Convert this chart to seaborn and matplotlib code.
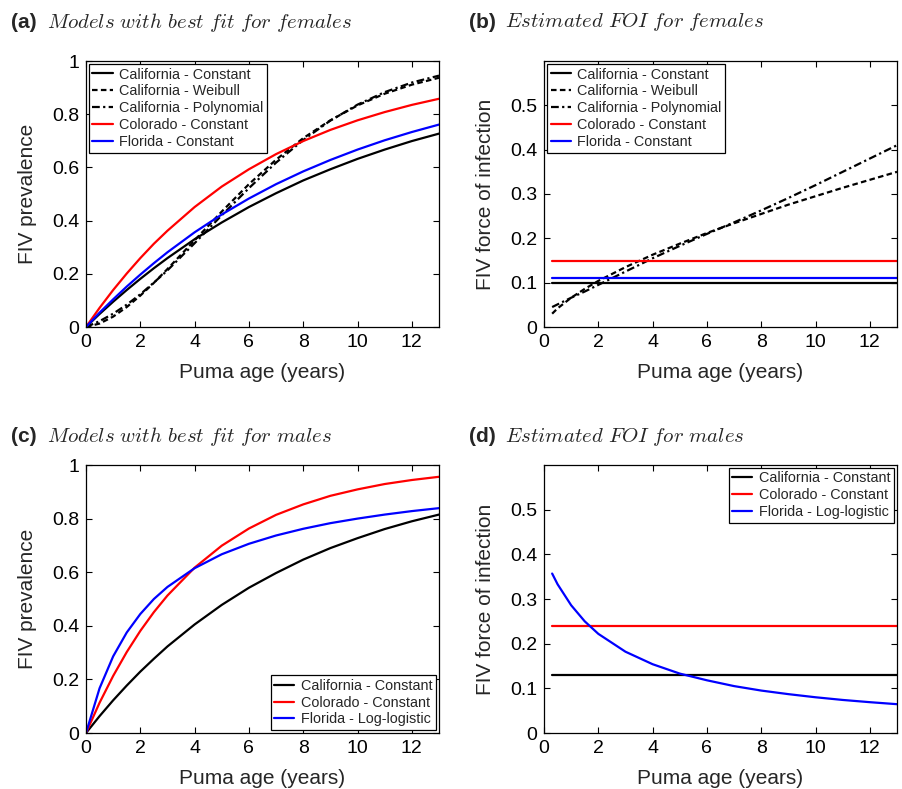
import matplotlib
matplotlib.use("Agg")
import matplotlib.pyplot as plt
import seaborn as sns

AGE = [0, 0.5, 1, 1.5, 2, 2.5, 3, 4, 5, 6, 7, 8, 9, 10, 11, 12, 13]
FOI_AGE = [0.3, 0.5, 1, 1.5, 2, 3, 4, 5, 6, 7, 8, 9, 10, 11, 12, 13]

# (a) female prevalence
prev_f_cal_const = [0, 0.049, 0.095, 0.139, 0.181, 0.221, 0.259, 0.330, 0.393, 0.451, 0.503, 0.551, 0.593, 0.632, 0.667, 0.699, 0.727]
prev_f_cal_weib = [0, 0.013, 0.039, 0.075, 0.118, 0.166, 0.218, 0.326, 0.434, 0.537, 0.629, 0.710, 0.777, 0.833, 0.877, 0.911, 0.937]
prev_f_cal_poly = [0, 0.022, 0.050, 0.084, 0.123, 0.167, 0.213, 0.315, 0.420, 0.522, 0.618, 0.703, 0.776, 0.836, 0.883, 0.919, 0.945]
prev_f_col_const = [0, 0.072, 0.139, 0.201, 0.259, 0.313, 0.362, 0.451, 0.528, 0.593, 0.650, 0.699, 0.741, 0.777, 0.808, 0.835, 0.858]
prev_f_fla_const = [0, 0.054, 0.104, 0.152, 0.197, 0.240, 0.281, 0.356, 0.423, 0.483, 0.537, 0.585, 0.628, 0.667, 0.702, 0.733, 0.761]

# (b) female force of infection
foi_f_cal_const = [0.10] * len(FOI_AGE)
foi_f_cal_weib = [0.030, 0.042, 0.066, 0.086, 0.104, 0.135, 0.163, 0.188, 0.212, 0.234, 0.255, 0.276, 0.295, 0.314, 0.332, 0.350]
foi_f_cal_poly = [0.045, 0.051, 0.066, 0.080, 0.095, 0.125, 0.155, 0.183, 0.210, 0.236, 0.263, 0.291, 0.320, 0.350, 0.380, 0.410]
foi_f_col_const = [0.15] * len(FOI_AGE)
foi_f_fla_const = [0.11] * len(FOI_AGE)

# (c) male prevalence
prev_m_cal_const = [0, 0.063, 0.122, 0.177, 0.229, 0.277, 0.323, 0.405, 0.478, 0.542, 0.597, 0.647, 0.690, 0.727, 0.761, 0.790, 0.815]
prev_m_col_const = [0, 0.113, 0.213, 0.302, 0.381, 0.451, 0.513, 0.617, 0.699, 0.763, 0.814, 0.853, 0.885, 0.909, 0.929, 0.944, 0.956]
prev_m_fla_loglog = [0, 0.167, 0.286, 0.375, 0.444, 0.500, 0.545, 0.615, 0.667, 0.706, 0.737, 0.762, 0.783, 0.800, 0.815, 0.828, 0.839]

# (d) male force of infection
foi_m_cal_const = [0.13] * len(FOI_AGE)
foi_m_col_const = [0.24] * len(FOI_AGE)
foi_m_fla_loglog = [0.357, 0.333, 0.286, 0.250, 0.222, 0.182, 0.154, 0.133, 0.118, 0.105, 0.095, 0.087, 0.080, 0.074, 0.069, 0.0645]

X_TICKS = [0, 2, 4, 6, 8, 10, 12]
PREV_TICKS = [0, 0.2, 0.4, 0.6, 0.8, 1]
FOI_TICKS = [0, 0.1, 0.2, 0.3, 0.4, 0.5]

SOLID = "-"
DASH = (0, (2.5, 1.5))
DASHDOT = (0, (3.5, 1.5, 1, 1.5))

sns.set_theme(style="ticks")
plt.rcParams["font.family"] = ["Liberation Sans", "DejaVu Sans"]
plt.rcParams["mathtext.fontset"] = "cm"

fig = plt.figure(figsize=(9.03, 7.89), dpi=100)
W, H = 903, 789


def add_axes(left, top, right, bottom):
    return fig.add_axes([left / W, 1 - bottom / H, (right - left) / W, (bottom - top) / H])


def style_axes(ax, yticks, ylim, ylabel):
    ax.set_xlim(0, 13)
    ax.set_ylim(*ylim)
    ax.set_xticks(X_TICKS)
    ax.set_yticks(yticks)
    ax.set_yticklabels([("%g" % t) for t in yticks])
    ax.tick_params(direction="in", top=True, right=True, length=4, width=0.8,
                   labelsize=14, colors="black", pad=5)
    for s in ax.spines.values():
        s.set_color("black")
        s.set_linewidth(0.9)
    ax.set_xlabel("Puma age (years)", fontsize=15, labelpad=9)
    ax.set_ylabel(ylabel, fontsize=15, labelpad=11)


def draw(ax, x, series, legend_loc):
    for y, color, ls, label in series:
        sns.lineplot(x=x, y=y, ax=ax, color=color, linestyle=ls, linewidth=1.6,
                     label=label, sort=False, estimator=None)
    leg = ax.legend(loc=legend_loc, fontsize=10.4, frameon=True, fancybox=False,
                    edgecolor="black", framealpha=1, borderaxespad=0.2,
                    handlelength=1.4, handletextpad=0.45, labelspacing=0.2,
                    borderpad=0.25)
    leg.get_frame().set_linewidth(0.9)


def title(x, y, tag, text):
    fig.text(x / W, 1 - y / H, tag, fontsize=15, fontweight="bold", va="center")
    fig.text((x + 36) / W, 1 - y / H, "$\\mathit{" + text.replace(" ", "\\ ") + "}$",
             fontsize=15, va="center")


ax_a = add_axes(86, 61, 439, 327)
draw(ax_a, AGE, [
    (prev_f_cal_const, "black", SOLID, "California - Constant"),
    (prev_f_cal_weib, "black", DASH, "California - Weibull"),
    (prev_f_cal_poly, "black", DASHDOT, "California - Polynomial"),
    (prev_f_col_const, "red", SOLID, "Colorado - Constant"),
    (prev_f_fla_const, "blue", SOLID, "Florida - Constant"),
], "upper left")
style_axes(ax_a, PREV_TICKS, (0, 1), "FIV prevalence")

ax_b = add_axes(544, 61, 897, 327)
draw(ax_b, FOI_AGE, [
    (foi_f_cal_const, "black", SOLID, "California - Constant"),
    (foi_f_cal_weib, "black", DASH, "California - Weibull"),
    (foi_f_cal_poly, "black", DASHDOT, "California - Polynomial"),
    (foi_f_col_const, "red", SOLID, "Colorado - Constant"),
    (foi_f_fla_const, "blue", SOLID, "Florida - Constant"),
], "upper left")
style_axes(ax_b, FOI_TICKS, (0, 0.6), "FIV force of infection")

ax_c = add_axes(86, 465, 439, 733)
draw(ax_c, AGE, [
    (prev_m_cal_const, "black", SOLID, "California - Constant"),
    (prev_m_col_const, "red", SOLID, "Colorado - Constant"),
    (prev_m_fla_loglog, "blue", SOLID, "Florida - Log-logistic"),
], "lower right")
style_axes(ax_c, PREV_TICKS, (0, 1), "FIV prevalence")

ax_d = add_axes(544, 465, 897, 733)
draw(ax_d, FOI_AGE, [
    (foi_m_cal_const, "black", SOLID, "California - Constant"),
    (foi_m_col_const, "red", SOLID, "Colorado - Constant"),
    (foi_m_fla_loglog, "blue", SOLID, "Florida - Log-logistic"),
], "upper right")
style_axes(ax_d, FOI_TICKS, (0, 0.6), "FIV force of infection")

title(11, 22, "(a)", "Models with best fit for females")
title(469, 22, "(b)", "Estimated FOI for females")
title(11, 437, "(c)", "Models with best fit for males")
title(469, 437, "(d)", "Estimated FOI for males")

fig.savefig("out.png", dpi=100, facecolor="white")
